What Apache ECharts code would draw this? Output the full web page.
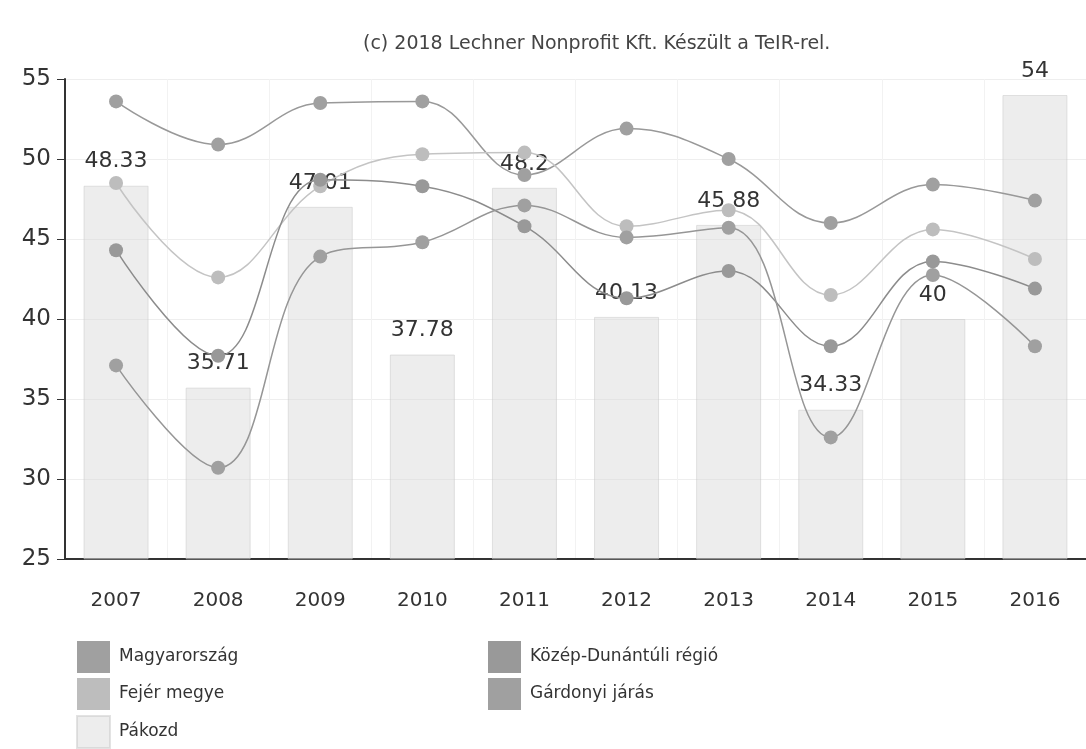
<!DOCTYPE html>
<html>
<head>
<meta charset="utf-8">
<script src="https://cdn.jsdelivr.net/npm/echarts@6/dist/echarts.min.js"></script>
<style>
  html, body { margin: 0; padding: 0; background: #fff; }
  #chart { width: 1086px; height: 749px; }
</style>
</head>
<body>
<div id="chart"></div>
<script>
const years = ['2007', '2008', '2009', '2010', '2011', '2012', '2013', '2014', '2015', '2016'];
const pakozd = [48.33, 35.71, 47.01, 37.78, 48.2, 40.13, 45.88, 34.33, 40, 54];
const magyarorszag = [53.6, 50.9, 53.5, 53.6, 49.0, 51.9, 50.0, 46.0, 48.4, 47.4];
const fejer = [48.5, 42.6, 48.3, 50.3, 50.4, 45.8, 46.8, 41.5, 45.6, 43.75];
const kozepDunantul = [44.3, 37.7, 48.7, 48.3, 45.8, 41.3, 43.0, 38.3, 43.6, 41.9];
const gardonyi = [37.1, 30.7, 43.9, 44.8, 47.1, 45.1, 45.7, 32.6, 42.75, 38.3];

const chart = echarts.init(document.getElementById('chart'));

const font = 'DejaVu Sans';
const lineSeries = (name, data, color, lineColor) => ({
  name: name,
  type: 'line',
  data: data,
  smooth: 0.4,
  symbol: 'circle',
  symbolSize: 14,
  itemStyle: { color: color },
  lineStyle: { color: lineColor, width: 1.5 },
  z: 3
});

const legendBase = {
  orient: 'vertical',
  top: 641,
  height: 120,
  padding: 0,
  itemWidth: 33,
  itemHeight: 32,
  itemGap: 5,
  icon: 'rect',
  textStyle: { fontSize: 17, color: '#333', fontFamily: font, padding: [0, 0, 0, 4] }
};

const options = {
  animation: false,
  color: ['#e3e3e3', '#a2a2a2', '#bdbdbd', '#999999', '#a0a0a0'],
  textStyle: { fontFamily: font },
  title: {
    text: '(c) 2018 Lechner Nonprofit Kft. Készült a TeIR-rel.',
    left: 358,
    top: 30,
    textStyle: { fontSize: 19, fontWeight: 'normal', color: '#444', fontFamily: font }
  },
  legend: [
    Object.assign({}, legendBase, { left: 76, data: ['Magyarország', 'Fejér megye', 'Pákozd'] }),
    Object.assign({}, legendBase, { left: 488, data: ['Közép-Dunántúli régió', 'Gárdonyi járás'] })
  ],
  grid: { left: 65, right: -11, top: 79, bottom: 190 },
  xAxis: {
    type: 'category',
    data: years,
    axisLine: { lineStyle: { color: '#333', width: 2 } },
    axisTick: { alignWithLabel: true, length: 7, lineStyle: { color: '#333' } },
    axisLabel: { fontSize: 20, color: '#333', margin: 32, fontFamily: font },
    splitLine: { show: true, lineStyle: { color: '#f2f2f2' } }
  },
  yAxis: {
    type: 'value',
    min: 25,
    max: 55,
    interval: 5,
    axisLine: { show: true, lineStyle: { color: '#333', width: 2 } },
    axisTick: { show: true, length: 8, lineStyle: { color: '#333' } },
    axisLabel: { fontSize: 23, color: '#333', margin: 14, fontFamily: font },
    splitLine: { lineStyle: { color: '#eeeeee' } }
  },
  series: [
    {
      name: 'Pákozd',
      type: 'bar',
      data: pakozd,
      barWidth: 65,
      itemStyle: { color: 'rgba(215,215,215,0.45)', borderColor: 'rgba(200,200,200,0.5)', borderWidth: 1 },
      label: {
        show: true,
        position: 'top',
        distance: 13,
        fontSize: 22,
        color: '#333',
        fontFamily: font
      },
      z: 2
    },
    lineSeries('Magyarország', magyarorszag, '#a0a0a0', '#999999'),
    lineSeries('Fejér megye', fejer, '#bdbdbd', '#c4c4c4'),
    lineSeries('Közép-Dunántúli régió', kozepDunantul, '#999999', '#8c8c8c'),
    lineSeries('Gárdonyi járás', gardonyi, '#a0a0a0', '#969696')
  ]
};

chart.setOption(options);
</script>
</body>
</html>
